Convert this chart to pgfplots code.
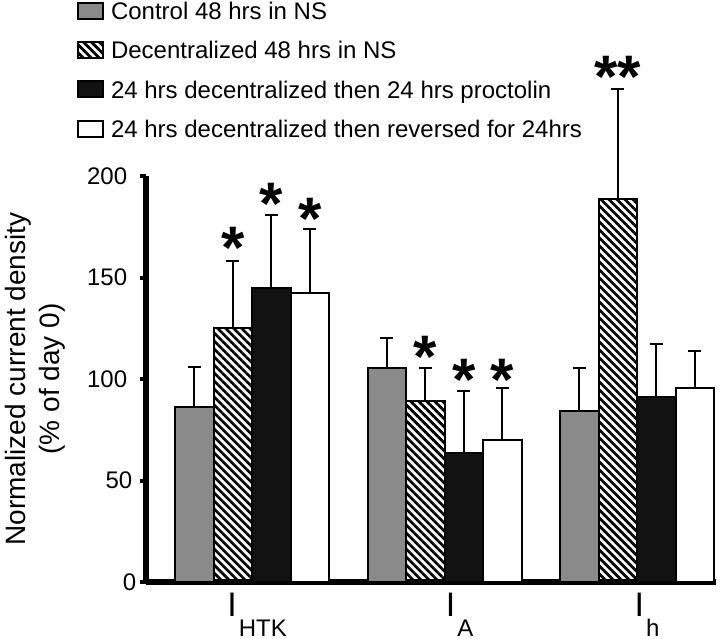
\documentclass[border=0pt]{standalone}
\usepackage{pgfplots}
\pgfplotsset{compat=1.18}
\usetikzlibrary{patterns.meta}
\usepackage{fontspec}
\setmainfont{Liberation Sans}
\definecolor{cgray}{RGB}{138,138,138}
\definecolor{cblack}{RGB}{18,18,18}
\tikzset{sig/.style={font=\fontsize{30}{30}\selectfont\bfseries, anchor=base, yshift=-16pt, inner sep=0pt}}
\newcommand{\curlab}[1]{{\fontsize{17}{17}\selectfont I}\kern1pt\raisebox{-10pt}{\fontsize{12}{12}\selectfont #1}}
\begin{document}
\begin{tikzpicture}
\useasboundingbox (-73pt,-28.5pt) rectangle (287pt,291pt);
\begin{axis}[
  scale only axis, width=285pt, height=203pt,
  xmin=-0.551, xmax=2.41, ymin=0, ymax=200,
  clip=false,
  axis lines=left,
  axis line style={-, line width=2.8pt, black},
  ytick={0,50,100,150,200},
  yticklabels={0\kern-4.5pt,50\kern-2.5pt,100,150,200},
  tick align=outside,
  ytick style={line width=2pt, black},
  major tick length=3.2pt,
  xtick={0.026,1.078,2.052},
  xtick style={draw=none},
  xticklabels={\curlab{HTK},\curlab{A},\curlab{h}},
  x tick label style={anchor=north, inner sep=0pt, yshift=-2pt},
  /pgf/number format/assume math mode=true,
  y tick label style={font=\fontsize{12}{14}\selectfont, inner sep=0pt, anchor=east, xshift=-6pt},
  ylabel={Normalized current density\\(\% of day 0)},
  ylabel style={align=center, font=\fontsize{14}{17}\selectfont, inner sep=0pt, at={(axis description cs:-0.2474,0.5)}, anchor=north},
  ybar, bar width=0.2,
  error bars/error bar style={line width=1pt, black},
  error bars/error mark options={rotate=90, line width=1pt, mark size=3.25pt, black},
  legend style={at={(axis description cs:-0.121,1.4285)}, anchor=north west,
    draw=none, fill=none, inner sep=0pt, outer sep=0pt,
    row sep=10.6pt, column sep=3.5pt,
    font=\fontsize{12}{14}\selectfont,
    nodes={inner sep=0pt, text height=8.6pt, text depth=0pt}},
  legend cell align=left,
  legend image code/.code={\draw[#1, line width=1pt] (0pt,-4pt) rectangle (12.5pt,4pt);},
]
\addplot[fill=cgray, draw=black, line width=1pt, bar shift=-0.3,
  error bars/.cd, y dir=plus, y explicit]
  coordinates {(0,86) +- (0,20) (1,105.5) +- (0,14.5) (2,84) +- (0,21.5)};
\addlegendentry{Control 48 hrs in NS}
\addplot[draw=black, line width=1pt, bar shift=-0.1,
  pattern={Lines[angle=-45, distance=2.83pt, line width=1.35pt]}, pattern color=black,
  error bars/.cd, y dir=plus, y explicit]
  coordinates {(0,125) +- (0,33) (1,89) +- (0,16.5) (2,188.7) +- (0,54.3)};
\addlegendentry{Decentralized 48 hrs in NS}
\addplot[fill=cblack, draw=black, line width=1pt, bar shift=0.1,
  error bars/.cd, y dir=plus, y explicit]
  coordinates {(0,145) +- (0,36) (1,63.5) +- (0,30.5) (2,91) +- (0,26)};
\addlegendentry{24 hrs decentralized then 24 hrs proctolin}
\addplot[fill=white, draw=black, line width=1pt, bar shift=0.3,
  error bars/.cd, y dir=plus, y explicit]
  coordinates {(0,142.5) +- (0,31.5) (1,70) +- (0,25.6) (2,95.6) +- (0,18.4)};
\addlegendentry{24 hrs decentralized then reversed for 24hrs}
\node[sig] at (axis cs:-0.1,170.4) {*};
\node[sig] at (axis cs:0.1,192.1) {*};
\node[sig] at (axis cs:0.3,184.7) {*};
\node[sig] at (axis cs:0.9,116.7) {*};
\node[sig] at (axis cs:1.1,105.4) {*};
\node[sig] at (axis cs:1.3,105.4) {*};
\node[sig] at (axis cs:1.9,254.5) {**};
\end{axis}
\end{tikzpicture}
\end{document}
